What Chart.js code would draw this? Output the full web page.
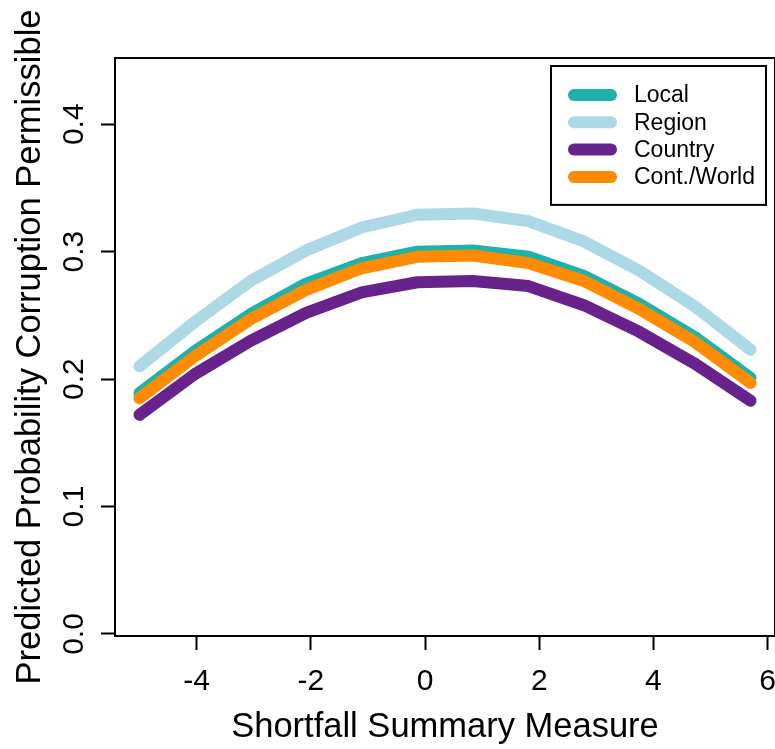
<!DOCTYPE html>
<html>
<head>
<meta charset="utf-8">
<script src="https://cdn.jsdelivr.net/npm/chart.js@4/dist/chart.umd.min.js"></script>
<style>
  html, body { margin: 0; padding: 0; background: #fff; }
  canvas { display: block; }
</style>
</head>
<body>
<canvas id="chart" width="775" height="749"></canvas>
<script>
// Shortfall summary measure (x) at each plotted point
const shortfall = [-5, -4.027, -3.055, -2.082, -1.109, -0.136, 0.836, 1.809, 2.782, 3.755, 4.727, 5.7];

// Predicted probability for each reference group
const localVals   = [0.189, 0.222, 0.251, 0.275, 0.291, 0.300, 0.301, 0.296, 0.281, 0.259, 0.233, 0.201];
const regionVals  = [0.210, 0.245, 0.277, 0.301, 0.319, 0.329, 0.330, 0.324, 0.308, 0.285, 0.257, 0.223];
const countryVals = [0.172, 0.204, 0.230, 0.252, 0.268, 0.276, 0.277, 0.273, 0.258, 0.237, 0.212, 0.183];
const worldVals   = [0.185, 0.218, 0.247, 0.270, 0.287, 0.296, 0.297, 0.291, 0.277, 0.255, 0.229, 0.197];

const seriesLabels = ['Local', 'Region', 'Country', 'Cont./World'];

// Tick labels
const xTicks = [-4, -2, 0, 2, 4, 6];
const yTicks = [0.0, 0.1, 0.2, 0.3, 0.4];

const FONT = '"Liberation Sans", Arial, sans-serif';

function toPoints(values) {
    return shortfall.map((x, i) => ({x: x, y: values[i]}));
}

function makeDataset(label, values, color, order) {
    return {
        label: label,
        data: toPoints(values),
        borderColor: color,
        backgroundColor: color,
        borderWidth: 12,
        borderCapStyle: 'round',
        borderJoinStyle: 'round',
        showLine: true,
        pointRadius: 0,
        pointHoverRadius: 0,
        tension: 0,
        order: order
    };
}

// Box around the plotting region, like R's bty="o"
const plotBox = {
    id: 'plotBox',
    afterDatasetsDraw(chart) {
        const {ctx, chartArea} = chart;
        ctx.save();
        ctx.strokeStyle = '#000';
        ctx.lineWidth = 2;
        ctx.strokeRect(chartArea.left, chartArea.top,
            chartArea.right - chartArea.left, chartArea.bottom - chartArea.top);
        ctx.restore();
    }
};

// Legend in the top-right corner with a frame
const boxedLegend = {
    id: 'boxedLegend',
    afterDraw(chart) {
        const {ctx, chartArea} = chart;
        const right = chartArea.right - 9;
        const left = right - 215;
        const top = chartArea.top + 8;
        const rowGap = 27.3;
        const firstRow = top + 29;
        const rows = chart.data.datasets.length;
        const bottom = firstRow + (rows - 1) * rowGap + 28;

        ctx.save();
        ctx.fillStyle = '#fff';
        ctx.fillRect(left, top, right - left, bottom - top);
        ctx.strokeStyle = '#000';
        ctx.lineWidth = 2;
        ctx.strokeRect(left, top, right - left, bottom - top);

        ctx.font = '23px ' + FONT;
        ctx.textBaseline = 'middle';
        ctx.textAlign = 'left';
        chart.data.datasets.forEach((ds, i) => {
            const y = firstRow + i * rowGap;
            ctx.strokeStyle = ds.borderColor;
            ctx.lineWidth = 12;
            ctx.lineCap = 'round';
            ctx.beginPath();
            ctx.moveTo(left + 23, y);
            ctx.lineTo(left + 60, y);
            ctx.stroke();
            ctx.fillStyle = '#000';
            ctx.fillText(ds.label, left + 83, y + 1);
        });
        ctx.restore();
    }
};

const ctx = document.getElementById('chart').getContext('2d');

new Chart(ctx, {
    type: 'scatter',
    data: {
        datasets: [
            makeDataset(seriesLabels[0], localVals, '#20B2AA', 4),
            makeDataset(seriesLabels[1], regionVals, '#ADD8E6', 3),
            makeDataset(seriesLabels[2], countryVals, '#68228B', 2),
            makeDataset(seriesLabels[3], worldVals, '#FF8C00', 1)
        ]
    },
    options: {
        responsive: false,
        animation: false,
        devicePixelRatio: 1,
        layout: {
            padding: {top: 58, right: 0, bottom: 0, left: 0}
        },
        plugins: {
            legend: {display: false},
            tooltip: {enabled: false}
        },
        scales: {
            x: {
                type: 'linear',
                min: -5.428,
                max: 6.128,
                afterBuildTicks: function(scale) {
                    scale.ticks = xTicks.map(v => ({value: v}));
                },
                afterFit: function(scale) {
                    scale.height = 113;
                    scale.paddingLeft = 0;
                    scale.paddingRight = 0;
                },
                border: {display: false},
                grid: {
                    drawOnChartArea: false,
                    drawTicks: true,
                    tickLength: 14,
                    tickWidth: 2,
                    tickColor: '#000'
                },
                ticks: {
                    autoSkip: false,
                    maxRotation: 0,
                    padding: 14,
                    color: '#000',
                    font: {family: FONT, size: 30},
                    callback: function(value) {
                        return String(value);
                    }
                },
                title: {
                    display: true,
                    text: 'Shortfall Summary Measure',
                    color: '#000',
                    font: {family: FONT, size: 34.5, lineHeight: 1},
                    padding: {top: 0, bottom: 4}
                }
            },
            y: {
                type: 'linear',
                min: -0.0016,
                max: 0.452,
                afterBuildTicks: function(scale) {
                    scale.ticks = yTicks.map(v => ({value: v}));
                },
                afterFit: function(scale) {
                    scale.width = 115;
                    scale.paddingTop = 0;
                    scale.paddingBottom = 0;
                },
                border: {display: false},
                grid: {
                    drawOnChartArea: false,
                    drawTicks: true,
                    tickLength: 14,
                    tickWidth: 2,
                    tickColor: '#000'
                },
                ticks: {
                    minRotation: 90,
                    maxRotation: 90,
                    crossAlign: 'center',
                    padding: 5,
                    color: '#000',
                    font: {family: FONT, size: 30},
                    callback: function(value) {
                        return value.toFixed(1);
                    }
                },
                title: {
                    display: true,
                    text: 'Predicted Probability Corruption Permissible',
                    color: '#000',
                    font: {family: FONT, size: 34.5, lineHeight: 1},
                    padding: {top: 13, bottom: 0}
                }
            }
        }
    },
    plugins: [plotBox, boxedLegend]
});
</script>
</body>
</html>
